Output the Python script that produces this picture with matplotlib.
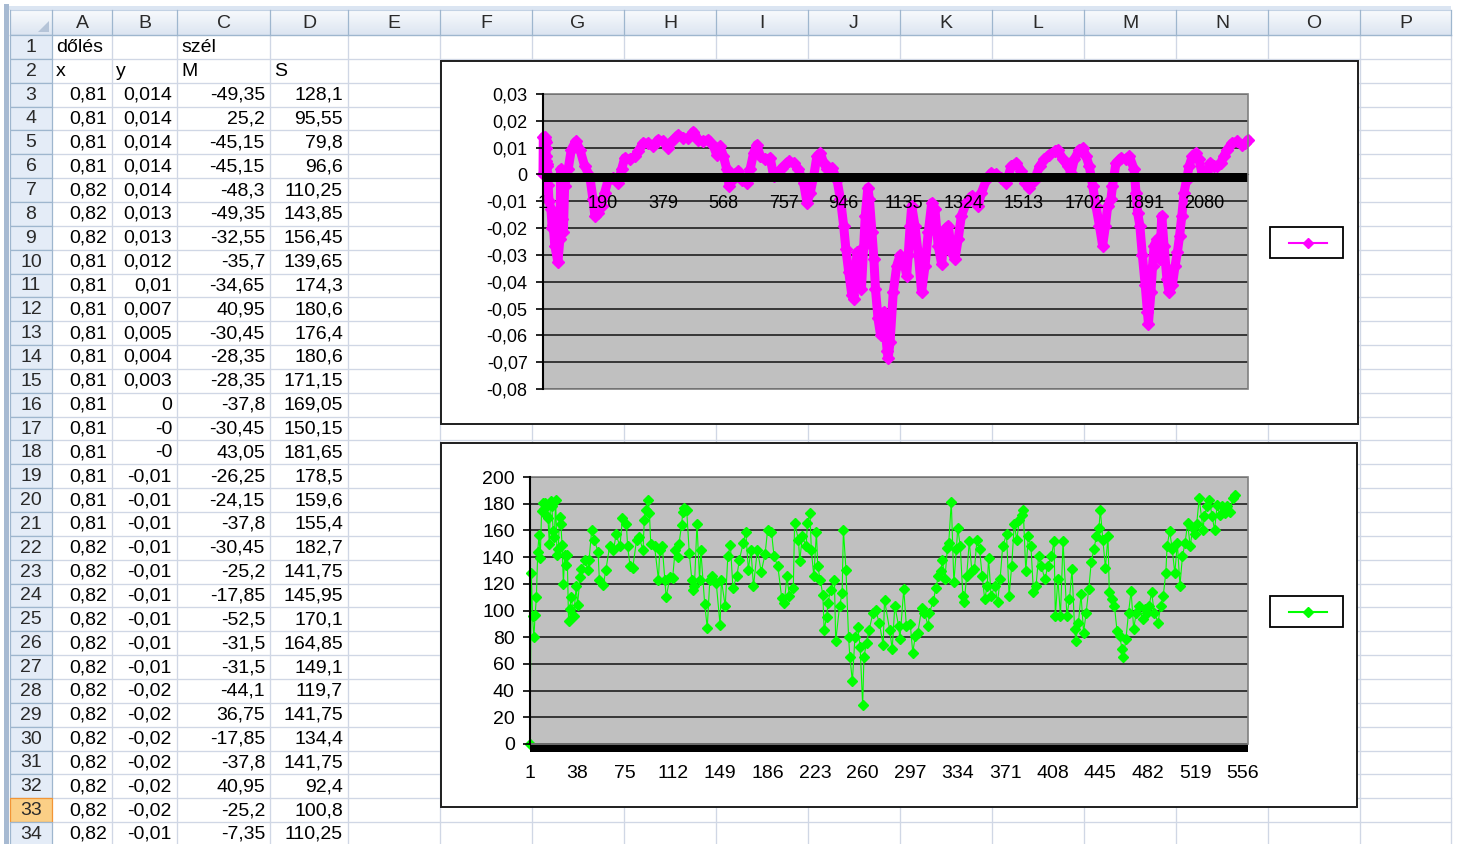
import matplotlib
matplotlib.use('Agg')
import matplotlib.pyplot as plt
import matplotlib.transforms as mtransforms
from matplotlib.patches import Rectangle, Polygon
from matplotlib.colors import LinearSegmentedColormap
import numpy as np

plt.rcParams['font.family'] = ['Liberation Sans', 'DejaVu Sans']

# ---------------- spreadsheet data ----------------
col_letters = list("ABCDEFGHIJKLMNOP")
row_numbers = list(range(1, 35))
hdr_row1 = {"A": "dőlés", "C": "szél"}
hdr_row2 = {"A": "x", "B": "y", "C": "M", "D": "S"}
tbl_x = [0.81, 0.81, 0.81, 0.81, 0.82, 0.82, 0.82, 0.81, 0.81, 0.81, 0.81, 0.81,
         0.81, 0.81, 0.81, 0.81, 0.81, 0.81, 0.81, 0.82, 0.82, 0.82, 0.82, 0.82,
         0.82, 0.82, 0.82, 0.82, 0.82, 0.82, 0.82, 0.82]
tbl_y = ["0,014", "0,014", "0,014", "0,014", "0,014", "0,013", "0,013", "0,012",
         "0,01", "0,007", "0,005", "0,004", "0,003", "0", "-0", "-0",
         "-0,01", "-0,01", "-0,01", "-0,01", "-0,01", "-0,01", "-0,01", "-0,01",
         "-0,01", "-0,02", "-0,02", "-0,02", "-0,02", "-0,02", "-0,02", "-0,01"]
tbl_M = [-49.35, 25.2, -45.15, -45.15, -48.3, -49.35, -32.55, -35.7, -34.65, 40.95,
         -30.45, -28.35, -28.35, -37.8, -30.45, 43.05, -26.25, -24.15, -37.8, -30.45,
         -25.2, -17.85, -52.5, -31.5, -31.5, -44.1, 36.75, -17.85, -37.8, 40.95,
         -25.2, -7.35]
tbl_S = [128.1, 95.55, 79.8, 96.6, 110.25, 143.85, 156.45, 139.65, 174.3, 180.6,
         176.4, 180.6, 171.15, 169.05, 150.15, 181.65, 178.5, 159.6, 155.4, 182.7,
         141.75, 145.95, 170.1, 164.85, 149.1, 119.7, 141.75, 134.4, 141.75, 92.4,
         100.8, 110.25]

# ---------------- top chart (dőlés) ----------------
top_cat = [1, 2, 6, 8, 9, 10, 11, 12, 13, 14, 15, 17, 20, 26, 30, 33, 38, 48, 54, 57,
           61, 65, 69, 80, 90, 104, 117, 132, 148, 158, 164, 174, 185, 195, 206, 221,
           237, 248, 258, 274, 290, 300, 316, 332, 348, 363, 379, 395, 405, 426, 442,
           458, 474, 489, 505, 521, 537, 547, 558, 568, 579, 586, 594, 605, 615, 626,
           642, 652, 663, 673, 684, 699, 715, 726, 736, 752, 773, 789, 804, 820, 831,
           841, 852, 862, 873, 883, 894, 909, 925, 936, 946, 953, 962, 972, 978, 983,
           988, 995, 1002, 1009, 1014, 1022, 1027, 1035, 1041, 1046, 1054, 1062, 1072,
           1083, 1086, 1092, 1102, 1113, 1123, 1134, 1144, 1149, 1155, 1160, 1170,
           1181, 1191, 1202, 1212, 1223, 1233, 1243, 1254, 1264, 1275, 1285, 1296,
           1306, 1316, 1332, 1348, 1369, 1379, 1395, 1410, 1426, 1442, 1457, 1473,
           1489, 1504, 1515, 1530, 1546, 1562, 1577, 1593, 1609, 1619, 1635, 1651,
           1661, 1671, 1687, 1698, 1708, 1718, 1729, 1739, 1750, 1760, 1769, 1776,
           1786, 1791, 1802, 1818, 1833, 1844, 1859, 1865, 1870, 1877, 1885, 1894,
           1901, 1904, 1912, 1917, 1922, 1932, 1940, 1946, 1953, 1962, 1969, 1979,
           1988, 1995, 2002, 2009, 2016, 2024, 2032, 2042, 2052, 2063, 2073, 2089,
           2099, 2110, 2120, 2131, 2141, 2152, 2167, 2183, 2199, 2209, 2217]
top_dol = [0.0, 0.014, 0.014, 0.013, 0.012, 0.010, 0.007, 0.005, 0.004, 0.003, 0.0,
           -0.004, -0.010, -0.013, -0.020, -0.019, -0.0265, -0.0327, -0.024, 0.002,
           -0.0167, -0.0216, -0.0043, 0.0019, 0.0093, 0.0123, 0.0093, 0.0031, -0.0006,
           -0.0093, -0.0154, -0.0142, -0.0117, -0.0068, -0.0019, -0.0012, -0.0031,
           0.0019, 0.0062, 0.0056, 0.0068, 0.0086, 0.0117, 0.0117, 0.0105, 0.0130,
           0.0123, 0.0099, 0.0123, 0.0148, 0.0136, 0.0136, 0.0160, 0.0130, 0.0123,
           0.0130, 0.0105, 0.0074, 0.0105, 0.0068, 0.0019, -0.0043, -0.0019, 0.0,
           0.0012, -0.0019, -0.0031, 0.0019, 0.0080, 0.0111, 0.0068, 0.0056, 0.0062,
           -0.0006, 0.0, 0.0025, 0.0049, 0.0043, 0.0019, -0.0031, -0.0105, -0.0068,
           -0.0006, 0.0068, 0.0080, 0.0043, 0.0019, 0.0025, -0.0019, -0.0093, -0.0191,
           -0.0278, -0.0364, -0.0451, -0.0463, -0.0377, -0.0290, -0.0364, -0.0426,
           -0.0265, -0.0154, -0.0049, -0.0093, -0.0216, -0.0315, -0.0426, -0.0537,
           -0.0599, -0.0512, -0.0660, -0.0685, -0.0623, -0.0438, -0.0340, -0.0302,
           -0.0315, -0.0377, -0.0302, -0.0191, -0.0117, -0.0191, -0.0302, -0.0438,
           -0.0340, -0.0216, -0.0105, -0.0130, -0.0265, -0.0333, -0.0204, -0.0191,
           -0.0290, -0.0315, -0.0241, -0.0154, -0.0105, -0.0080, -0.0117, -0.0068,
           -0.0019, 0.0006, 0.0, -0.0012, -0.0031, 0.0031, 0.0043, 0.0012, -0.0031,
           -0.0049, -0.0019, 0.0031, 0.0056, 0.0074, 0.0086, 0.0093, 0.0056, 0.0031,
           0.0006, 0.0056, 0.0093, 0.0099, 0.0068, 0.0031, -0.0043, -0.0117, -0.0191,
           -0.0265, -0.0191, -0.0117, -0.0093, -0.0043, 0.0043, 0.0062, 0.0056, 0.0068,
           0.0019, -0.0068, -0.0142, -0.0191, -0.0302, -0.0414, -0.0512, -0.0556,
           -0.0438, -0.0340, -0.0265, -0.0241, -0.0315, -0.0154, -0.0265, -0.0389,
           -0.0438, -0.0414, -0.0340, -0.0290, -0.0228, -0.0154, -0.0068, -0.0019,
           0.0031, 0.0068, 0.0080, 0.0056, 0.0, 0.0, 0.0043, 0.0031, 0.0031, 0.0043,
           0.0068, 0.0093, 0.0117, 0.0123, 0.0111, 0.0117, 0.0130]
top_xticks = [1, 190, 379, 568, 757, 946, 1135, 1324, 1513, 1702, 1891, 2080]
top_yticks = [0.03, 0.02, 0.01, 0.0, -0.01, -0.02, -0.03, -0.04, -0.05, -0.06, -0.07, -0.08]

# ---------------- bottom chart (szél S) ----------------
bot_cat = list(range(1, 34)) + [
    35, 37, 38, 40, 41, 44, 46, 47, 49, 51, 54, 55, 58, 60, 63, 66, 68, 71, 73, 76,
    77, 79, 81, 84, 86, 89, 90, 91, 93, 94, 95, 98, 101, 102, 104, 106, 107, 110, 112,
    114, 116, 117, 119, 120, 121, 123, 125, 127, 128, 129, 131, 133, 134, 137, 139, 141,
    143, 146, 149, 150, 153, 155, 157, 159, 162, 164, 167, 169, 171, 173, 175, 178, 181,
    184, 186, 189, 191, 194, 197, 199, 201, 203, 206, 207, 210, 211, 213, 216, 217, 219,
    220, 222, 224, 225, 227, 229, 230, 232, 233, 235, 238, 239, 242, 244, 245, 247, 249,
    250, 252, 254, 256, 258, 260, 261, 263, 265, 268, 270, 273, 276, 277, 281,
    283, 285, 288, 289, 292, 294, 297, 299, 301, 303, 306, 308, 311, 312, 315, 317, 319,
    321, 322, 324, 326, 327, 329, 331, 333, 334, 336, 338, 339, 341, 343, 345, 347, 349,
    351, 353, 355, 357, 358, 360, 363, 365, 367, 369, 372, 374, 376, 378, 380, 382, 384,
    385, 387, 389, 391, 393, 395, 397, 399, 402, 404, 407, 409, 410, 412, 414, 416, 419,
    421, 423, 425, 426, 428, 430, 432, 434, 436, 438, 440, 442, 444, 445, 447, 449, 451,
    452, 454, 456, 458, 460, 462, 463, 465, 467, 469, 471, 473, 475, 478, 480, 481, 483,
    485, 487, 490, 492, 494, 496, 497, 499, 501, 503, 505, 507, 509, 511, 513, 515, 517,
    519, 520, 522, 525, 526, 528, 530, 532, 534, 536, 538, 540, 542, 544, 546, 548, 550]
bot_S = [0.0] + tbl_S + [
    96, 118, 104, 125, 131, 138, 130, 138, 160, 153, 144, 123, 119, 130, 148, 145, 157,
    148, 169, 165, 148, 133, 132, 153, 155, 145, 168, 175, 183, 173, 150, 148, 123, 145,
    148, 123, 110, 125, 124, 145, 140, 150, 164, 174, 177, 175, 143, 123, 115, 118, 165,
    123, 145, 105, 87, 123,
    125.5, 120.5, 89, 123, 103, 140.5, 149, 117, 125.5, 138, 150.5, 159, 130.5, 145.5,
    118, 145.5, 129, 142, 160.5, 159, 140.5, 133, 109, 105.5, 125.5, 110.5, 117, 165.5,
    153, 137, 155.5, 148, 165.5, 173, 145.5, 125.5, 159, 133, 123, 111.5, 85.5, 95.5,
    105.5, 115.5, 123, 77, 103, 113, 160.5, 130.5, 80.5, 65.5, 47, 80.5, 88, 73, 29,
    65.5, 75.5, 85.5, 98, 100.5, 90.5, 74, 108, 85.5,
    71, 103.5, 88.5, 78.5, 116, 88.5, 90, 68.5, 81, 83.5, 102, 98.5, 88.5, 98.5, 107,
    117, 126, 129.5, 138, 123.5, 147, 150.5, 181.5, 121, 146, 162, 148, 111, 106, 126,
    152, 129.5, 131, 153, 146, 126, 108.5, 118.5, 139.5, 111, 118.5, 106, 123.5, 148,
    157, 111, 133, 164.5, 153, 168, 171.5, 175.5, 129.5, 155.5, 148, 113.5, 118.5, 141,
    133, 123.5, 133, 141, 152, 96, 123.5, 96, 152, 96, 108.5, 131, 86, 77.5, 91, 112,
    83.5, 98.5, 116, 136.5, 146, 155.5, 162, 175.5, 153, 132, 155.5, 113.5, 108.5,
    103.5, 85, 81, 71, 65, 79, 98.5, 114.5, 86, 98.5, 103.5, 93.5, 101, 98.5, 103.5,
    113.5, 98.5, 91, 103.5, 111, 128, 148, 159.5, 146, 128, 150.5, 118.5, 141, 150.5,
    165.5, 148, 162, 157, 164.5, 184, 160.5, 170.5, 178, 183, 170.5, 160.5, 179, 171.5,
    178, 173, 178, 174, 184, 186.5]
bot_xticks = [1, 38, 75, 112, 149, 186, 223, 260, 297, 334, 371, 408, 445, 482, 519, 556]
bot_yticks = [0, 20, 40, 60, 80, 100, 120, 140, 160, 180, 200]


def xl_num(v):
    s = repr(float(v))
    if s.endswith('.0'):
        s = s[:-2]
    return s.replace('.', ',')


def tick_lab(v):
    if abs(v) < 1e-12:
        return "0"
    return f"{v:.2f}".replace('.', ',')


# ---------------- figure ----------------
W, H = 1459, 844
fig = plt.figure(figsize=(W / 100, H / 100), dpi=100)
bg = fig.add_axes([0, 0, 1, 1])
bg.axis('off')


def px_axes(x0, y0, x1, y1):
    return fig.add_axes([x0 / W, 1 - y1 / H, (x1 - x0) / W, (y1 - y0) / H])


col_edges = [10, 52, 112, 177, 270, 348, 440, 532, 624, 716, 808, 900, 992, 1084,
             1176, 1268, 1360, 1451]
hdr_top, hdr_bot = 10, 35
row_h = 23.85
grid_c = '#d0d7e5'
hdr_edge = '#9eb6ce'

# window frame bits
bg.add_patch(Rectangle((4, 4), 5, H, fc='#a7bad2', ec='none', zorder=1))
bg.add_patch(Rectangle((9, 6), 1442, 4, fc='#dbe5f2', ec='none', zorder=1))

# cell gridlines
for k in range(1, len(row_numbers) + 1):
    y = hdr_bot + k * row_h
    bg.plot([52, col_edges[-1]], [y, y], color=grid_c, lw=0.95, zorder=1)
for x in col_edges[2:]:
    bg.plot([x, x], [hdr_bot, H], color=grid_c, lw=0.95, zorder=1)

# column header gradient
cmap_h = LinearSegmentedColormap.from_list('h', ['#f8fafd', '#dce5f1'])
grad = np.linspace(0, 1, 30)[:, None]
bg.imshow(grad, extent=(10, col_edges[-1], hdr_bot, hdr_top), cmap=cmap_h,
          aspect='auto', zorder=2, interpolation='bilinear')
bg.plot([10, col_edges[-1]], [hdr_bot, hdr_bot], color=hdr_edge, lw=1.0, zorder=3)
bg.plot([10, col_edges[-1]], [hdr_top, hdr_top], color='#c3d2e4', lw=0.8, zorder=3)
for x in col_edges:
    bg.plot([x, x], [hdr_top, hdr_bot], color=hdr_edge, lw=0.9, zorder=3)
for i, L in enumerate(col_letters):
    xc = (col_edges[i + 1] + col_edges[i + 2]) / 2
    bg.text(xc, (hdr_top + hdr_bot) / 2 + 0.5, L, ha='center', va='center',
            fontsize=14, color='#2a2a2a', zorder=4)
# corner triangle
bg.add_patch(Polygon([(38, 32), (49, 32), (49, 21)], closed=True, fc='#b5c4d8',
                     ec='none', zorder=4))

# row headers
for k, n in enumerate(row_numbers):
    y0 = hdr_bot + k * row_h
    if n == 33:
        fc, ec = '#fbcf86', '#f29536'
    else:
        fc, ec = '#e4ecf7', hdr_edge
    bg.add_patch(Rectangle((10, y0), 42, row_h, fc=fc, ec=ec, lw=0.9, zorder=3))
    bg.text(31, y0 + row_h / 2 + 0.5, str(n), ha='center', va='center', fontsize=14,
            color='#2a2a2a', zorder=4)


def row_c(n):
    return hdr_bot + (n - 0.5) * row_h + 0.5


col_idx = {L: i for i, L in enumerate(col_letters)}
for L, t in hdr_row1.items():
    bg.text(col_edges[col_idx[L] + 1] + 4, row_c(1), t, ha='left', va='center',
            fontsize=14, color='black', zorder=4)
for L, t in hdr_row2.items():
    bg.text(col_edges[col_idx[L] + 1] + 4, row_c(2), t, ha='left', va='center',
            fontsize=14, color='black', zorder=4)
for r in range(len(tbl_x)):
    n = r + 3
    cells = [xl_num(tbl_x[r]), tbl_y[r], xl_num(tbl_M[r]), xl_num(tbl_S[r])]
    for c, s in enumerate(cells):
        bg.text(col_edges[c + 2] - 5, row_c(n), s, ha='right', va='center',
                fontsize=14, color='black', zorder=4)

# chart frames and legends
bg.add_patch(Rectangle((440.5, 60.5), 917, 363.5, fc='white', ec='#1e1e1e', lw=1.4, zorder=5))
bg.add_patch(Rectangle((441, 443), 916, 364, fc='white', ec='#1e1e1e', lw=1.4, zorder=5))
bg.add_patch(Rectangle((1270, 227), 73, 31, fc='white', ec='black', lw=1.3, zorder=6))
bg.plot([1289, 1327], [243, 243], color='#ff00ff', lw=1.5, zorder=7)
bg.plot([1308], [243], marker='D', ms=5, color='#ff00ff', zorder=7)
bg.add_patch(Rectangle((1270, 596), 73, 31, fc='white', ec='black', lw=1.3, zorder=6))
bg.plot([1289, 1327], [612, 612], color='#00ff00', lw=1.5, zorder=7)
bg.plot([1308], [612], marker='D', ms=5, color='#00ff00', zorder=7)

bg.set_xlim(0, W)
bg.set_ylim(H, 0)


def style_chart(ax, yticks, ylabels, xticks, fs):
    ax.set_axisbelow(False)
    ax.set_facecolor('#c0c0c0')
    for s in ['top', 'right', 'bottom']:
        ax.spines[s].set_visible(False)
    ax.spines['left'].set_color('black')
    ax.spines['left'].set_linewidth(1.5)
    ax.spines['left'].set_zorder(4)
    ax.add_patch(Rectangle((0, 0), 1, 1, transform=ax.transAxes, fill=False,
                           ec='#808080', lw=1.2, zorder=3, clip_on=False))
    for v in yticks:
        ax.axhline(v, color='#111111', lw=1.1, zorder=1)
    ax.set_yticks(yticks)
    ax.set_yticklabels(ylabels)
    ax.tick_params(axis='y', direction='out', length=5, width=1.2, color='black',
                   labelsize=fs, pad=6)
    ax.set_xticks(xticks)
    ax.set_xticklabels([str(t) for t in xticks])
    ax.tick_params(axis='x', length=0, labelsize=fs, pad=15)


# ---- top chart ----
ax1 = px_axes(543, 94, 1248, 389)
ax1.set_xlim(1, 2217)
ax1.set_ylim(-0.08, 0.03)
style_chart(ax1, top_yticks, [tick_lab(v) for v in top_yticks], top_xticks, 13)
ax1.spines['bottom'].set_visible(True)
ax1.spines['bottom'].set_position(('data', 0))
ax1.spines['bottom'].set_color('black')
ax1.plot(top_cat, top_dol, color='#ff00ff', lw=6.5, marker='D', ms=6, mec='#ff00ff',
         solid_joinstyle='round', solid_capstyle='round', zorder=2, clip_on=False)
tr1 = mtransforms.blended_transform_factory(ax1.transAxes, ax1.transData)
ax1.add_patch(Rectangle((0, -0.0028), 1, 0.0032, transform=tr1, fc='black', ec='none',
                        zorder=2.3))

# ---- bottom chart ----
ax2 = px_axes(530, 477, 1248, 744)
ax2.set_xlim(1, 560)
ax2.set_ylim(0, 200)
style_chart(ax2, bot_yticks, [str(v) for v in bot_yticks], bot_xticks, 14)
ax2.plot(bot_cat, bot_S, color='#00ff00', lw=0.8, marker='D', ms=5, mec='#00ff00',
         zorder=2, clip_on=False)
tr2 = mtransforms.blended_transform_factory(ax2.transAxes, ax2.transData)
ax2.add_patch(Rectangle((0, -6.0), 1, 6.6, transform=tr2, fc='black', ec='none',
                        zorder=2.3, clip_on=False))

fig.savefig('out.png', dpi=100)
